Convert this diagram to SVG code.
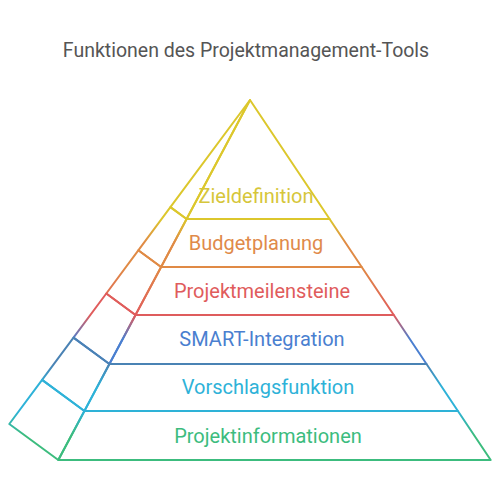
<svg xmlns="http://www.w3.org/2000/svg" width="500" height="500" viewBox="0 0 500 500">
  <style>
    text { font-family: Roboto, "Liberation Sans", sans-serif; font-size: 20px; text-anchor: middle; }
    .title { fill: #555555; font-size: 19.5px; }
    polygon { fill: none; stroke-width: 2; stroke-linejoin: round; }
  </style>
  <defs>
    <linearGradient id="g1" gradientUnits="userSpaceOnUse" x1="0" y1="100" x2="0" y2="219"><stop offset="0" stop-color="#dcc72c"/><stop offset="1" stop-color="#dcc72c"/></linearGradient>
    <linearGradient id="g2" gradientUnits="userSpaceOnUse" x1="0" y1="219" x2="0" y2="267"><stop offset="0" stop-color="#dcc72c"/><stop offset="0.5" stop-color="#e08a45"/><stop offset="1" stop-color="#e08a45"/></linearGradient>
    <linearGradient id="g3" gradientUnits="userSpaceOnUse" x1="0" y1="267" x2="0" y2="315"><stop offset="0" stop-color="#e08a45"/><stop offset="1" stop-color="#e05c5c"/></linearGradient>
    <linearGradient id="g4" gradientUnits="userSpaceOnUse" x1="0" y1="315" x2="0" y2="364"><stop offset="0" stop-color="#e05c5c"/><stop offset="0.5" stop-color="#4a7fd0"/><stop offset="1" stop-color="#4a7fd0"/></linearGradient>
    <linearGradient id="g5" gradientUnits="userSpaceOnUse" x1="0" y1="364" x2="0" y2="411"><stop offset="0" stop-color="#4a82b4"/><stop offset="0.5" stop-color="#2eb2d8"/><stop offset="1" stop-color="#2eb2d8"/></linearGradient>
    <linearGradient id="g6" gradientUnits="userSpaceOnUse" x1="0" y1="411" x2="0" y2="460"><stop offset="0" stop-color="#2eb2d8"/><stop offset="0.5" stop-color="#3cbc7e"/><stop offset="1" stop-color="#3cbc7e"/></linearGradient>
  </defs>
  <rect width="500" height="500" fill="#ffffff"/>
  <text class="title" x="246" y="57">Funktionen des Projektmanagement-Tools</text>

  <g id="layer1">
    <polygon points="250,100 329.6,219 186.6,219" stroke="url(#g1)"/>
    <polygon points="250,100 186.6,219 170.4,207.1" stroke="url(#g1)"/>
    <text x="256" y="203" fill="#d6c63a">Zieldefinition</text>
  </g>
  <g id="layer2">
    <polygon points="186.6,219 329.6,219 361.7,267 161.1,267" stroke="url(#g2)"/>
    <polygon points="170.4,207.1 186.6,219 161.1,267 138.3,250.3" stroke="url(#g2)"/>
    <text x="256" y="250" fill="#e08a4a">Budgetplanung</text>
  </g>
  <g id="layer3">
    <polygon points="161.1,267 361.7,267 393.8,315 135.5,315" stroke="url(#g3)"/>
    <polygon points="138.3,250.3 161.1,267 135.5,315 106.3,293.5" stroke="url(#g3)"/>
    <text x="262" y="298" fill="#e05c5c">Projektmeilensteine</text>
  </g>
  <g id="layer4">
    <polygon points="135.5,315 393.8,315 426.5,364 109.4,364" stroke="url(#g4)"/>
    <polygon points="106.3,293.5 135.5,315 109.4,364 73.5,337.6" stroke="url(#g4)"/>
    <text x="262" y="346" fill="#4a7fd0">SMART-Integration</text>
  </g>
  <g id="layer5">
    <polygon points="109.4,364 426.5,364 457.9,411 84.4,411" stroke="url(#g5)"/>
    <polygon points="73.5,337.6 109.4,364 84.4,411 42.1,379.9" stroke="url(#g5)"/>
    <text x="268" y="394" fill="#2eb2d8">Vorschlagsfunktion</text>
  </g>
  <g id="layer6">
    <polygon points="84.4,411 457.9,411 490.7,460 58.3,460" stroke="url(#g6)"/>
    <polygon points="42.1,379.9 84.4,411 58.3,460 9.3,424" stroke="url(#g6)"/>
    <text x="268" y="443" fill="#3cbc7e">Projektinformationen</text>
  </g>
</svg>
